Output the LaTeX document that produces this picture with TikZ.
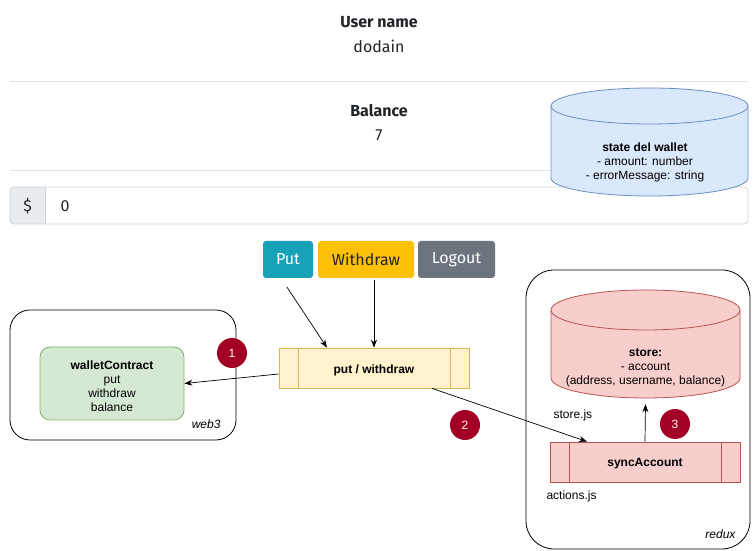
\documentclass[tikz,border=0pt]{standalone}
\usepackage{fontspec}
\setmainfont{Liberation Sans}
\newfontfamily\uifont{Fira Sans}
\usetikzlibrary{arrows.meta}
\definecolor{uitext}{HTML}{212529}
\definecolor{sepline}{HTML}{E3E3E3}
\definecolor{inborder}{HTML}{CED4DA}
\definecolor{addon}{HTML}{E9ECEF}
\definecolor{btnteal}{HTML}{17A2B8}
\definecolor{btnyellow}{HTML}{FFC107}
\definecolor{btngray}{HTML}{6C757D}
\definecolor{bluefill}{HTML}{DAE8FC}
\definecolor{bluedraw}{HTML}{6C8EBF}
\definecolor{redfill}{HTML}{F8CECC}
\definecolor{reddraw}{HTML}{B85450}
\definecolor{greenfill}{HTML}{D5E8D4}
\definecolor{greendraw}{HTML}{82B366}
\definecolor{yellowfill}{HTML}{FFF2CC}
\definecolor{yellowdraw}{HTML}{D6B656}
\definecolor{badge}{HTML}{A20025}
\tikzset{
  uibold/.style={font=\uifont\bfseries\fontsize{16}{19}\selectfont, text=uitext},
  uinorm/.style={font=\uifont\fontsize{16}{19}\selectfont, text=uitext},
  btn/.style={rounded corners=3pt, minimum height=37pt, inner sep=0pt, font=\uifont\fontsize{16}{19}\selectfont},
  dtext/.style={font=\fontsize{12}{14}\selectfont, align=center, text=black, yshift=-3pt},
  ltext/.style={font=\fontsize{12}{14}\selectfont, anchor=west, yshift=-2pt},
  container/.style={draw=black, line width=0.8pt, rounded corners=20pt},
  procbox/.style={minimum height=40pt, inner sep=0pt, line width=0.8pt},
  badgec/.style={circle, fill=badge, minimum size=30pt, inner sep=0pt, text=white, font=\fontsize{12}{14}\selectfont},
  arr/.style={-{Stealth[length=8pt,width=6pt]}, line width=0.7pt, draw=black},
}
\begin{document}
\begin{tikzpicture}[x=1pt,y=1pt]
\useasboundingbox (0,0) rectangle (753,551);
\fill[white] (0,0) rectangle (753,551);

% header texts
\node[uibold] (uname) at (379,529) {User name};
\node[uinorm] (uval) at (379,505) {dodain};
\draw[sepline, line width=0.8pt] (10,470) -- (748,470);
\node[uibold] (bal) at (379,440) {Balance};
\node[uinorm] (balv) at (379,416) {7};
\draw[sepline, line width=0.8pt] (10,381) -- (748,381);

% input group
\begin{scope}
\clip[rounded corners=4pt] (10,327) rectangle (748,364);
\fill[white] (10,327) rectangle (748,364);
\fill[addon] (10,327) rectangle (45,364);
\end{scope}
\draw[inborder, line width=0.8pt, rounded corners=4pt] (10,327) rectangle (748,364);
\draw[inborder, line width=0.8pt] (45,327) -- (45,364);
\node[uinorm] (dollar) at (27.5,344.5) {\$};
\node[uinorm, anchor=west] (amount) at (57,344.5) {0};

% blue cylinder (state del wallet)
\filldraw[fill=bluefill, draw=bluedraw, line width=0.8pt]
  (551,445) -- (551,373) arc[start angle=180, end angle=360, x radius=98.5pt, y radius=18pt]
  -- (748,445) arc[start angle=0, end angle=180, x radius=98.5pt, y radius=18pt] -- cycle;
\draw[bluedraw, line width=0.8pt] (551,445) arc[start angle=180, end angle=360, x radius=98.5pt, y radius=18pt];
\node[dtext] (state) at (645,392) {\textbf{state del wallet}\\- amount: number\\- errorMessage: string};

% buttons
\node[btn, fill=btnteal, text=white, minimum width=50pt] (put) at (288,291.5) {Put};
\node[btn, fill=btnyellow, text=uitext, minimum width=96pt] (withdraw) at (366,291.5) {Withdraw};
\node[btn, fill=btngray, text=white, minimum width=77pt] (logout) at (456.5,291.5) {Logout};

% web3 container
\draw[container] (10,111) rectangle (236,241);
\node[font=\itshape\fontsize{12}{14}\selectfont, anchor=east, yshift=-1pt] (web3) at (224,128) {web3};
\node[draw=greendraw, fill=greenfill, line width=0.8pt, rounded corners=10pt,
      minimum width=144pt, minimum height=73pt, inner sep=0pt] (wallet) at (112,167.5) {};
\node[dtext] (walletlabel) at (wallet.center)
  {\textbf{walletContract}\\put\\withdraw\\balance};

% put / withdraw process
\node[procbox, draw=yellowdraw, fill=yellowfill, minimum width=190pt] (pw) at (374,183) {};
\draw[yellowdraw, line width=0.8pt] (298,163) -- (298,203) (450,163) -- (450,203);
\node[dtext, yshift=1pt] (pwlabel) at (pw.center) {\textbf{put / withdraw}};

% redux container
\draw[container, rounded corners=28pt] (526,2) rectangle (750,281);
\node[font=\itshape\fontsize{12}{14}\selectfont, anchor=east, yshift=-1pt] (reduxl) at (739,18) {redux};

% store cylinder
\filldraw[fill=redfill, draw=reddraw, line width=0.8pt]
  (551,241) -- (551,173) arc[start angle=180, end angle=360, x radius=94.5pt, y radius=20pt]
  -- (740,241) arc[start angle=0, end angle=180, x radius=94.5pt, y radius=20pt] -- cycle;
\draw[reddraw, line width=0.8pt] (551,241) arc[start angle=180, end angle=360, x radius=94.5pt, y radius=20pt];
\node[minimum width=189pt, minimum height=108pt, inner sep=0pt] (store) at (645.5,207) {};
\node[dtext] (storelabel) at (645.5,186) {\textbf{store:}\\- account\\(address, username, balance)};
\node[ltext] (storejs) at (550,138) {store.js};

% syncAccount process
\node[procbox, draw=reddraw, fill=redfill, minimum width=190pt] (sync) at (645,89) {};
\draw[reddraw, line width=0.8pt] (569,69) -- (569,109) (721,69) -- (721,109);
\node[dtext, yshift=1pt] (synclabel) at (sync.center) {\textbf{syncAccount}};
\node[ltext] (actionsjs) at (543,57) {actions.js};

% arrows
\draw[arr] ([xshift=-1pt,yshift=-9pt]put.south) -- ([xshift=-47pt]pw.north);
\draw[arr] ([xshift=8pt,yshift=-2pt]withdraw.south) -- (pw.north);
\draw[arr] ([yshift=-6pt]pw.west) -- (wallet.east);
\draw[arr] ([xshift=58pt]pw.south) -- ([xshift=-58pt]sync.north);
\draw[arr] (sync.north) -- ([yshift=-6pt]store.south);

% badges
\node[badgec] (b1) at (232,198) {1};
\node[badgec] (b2) at (465,126) {2};
\node[badgec] (b3) at (675,127) {3};
\end{tikzpicture}
\end{document}
